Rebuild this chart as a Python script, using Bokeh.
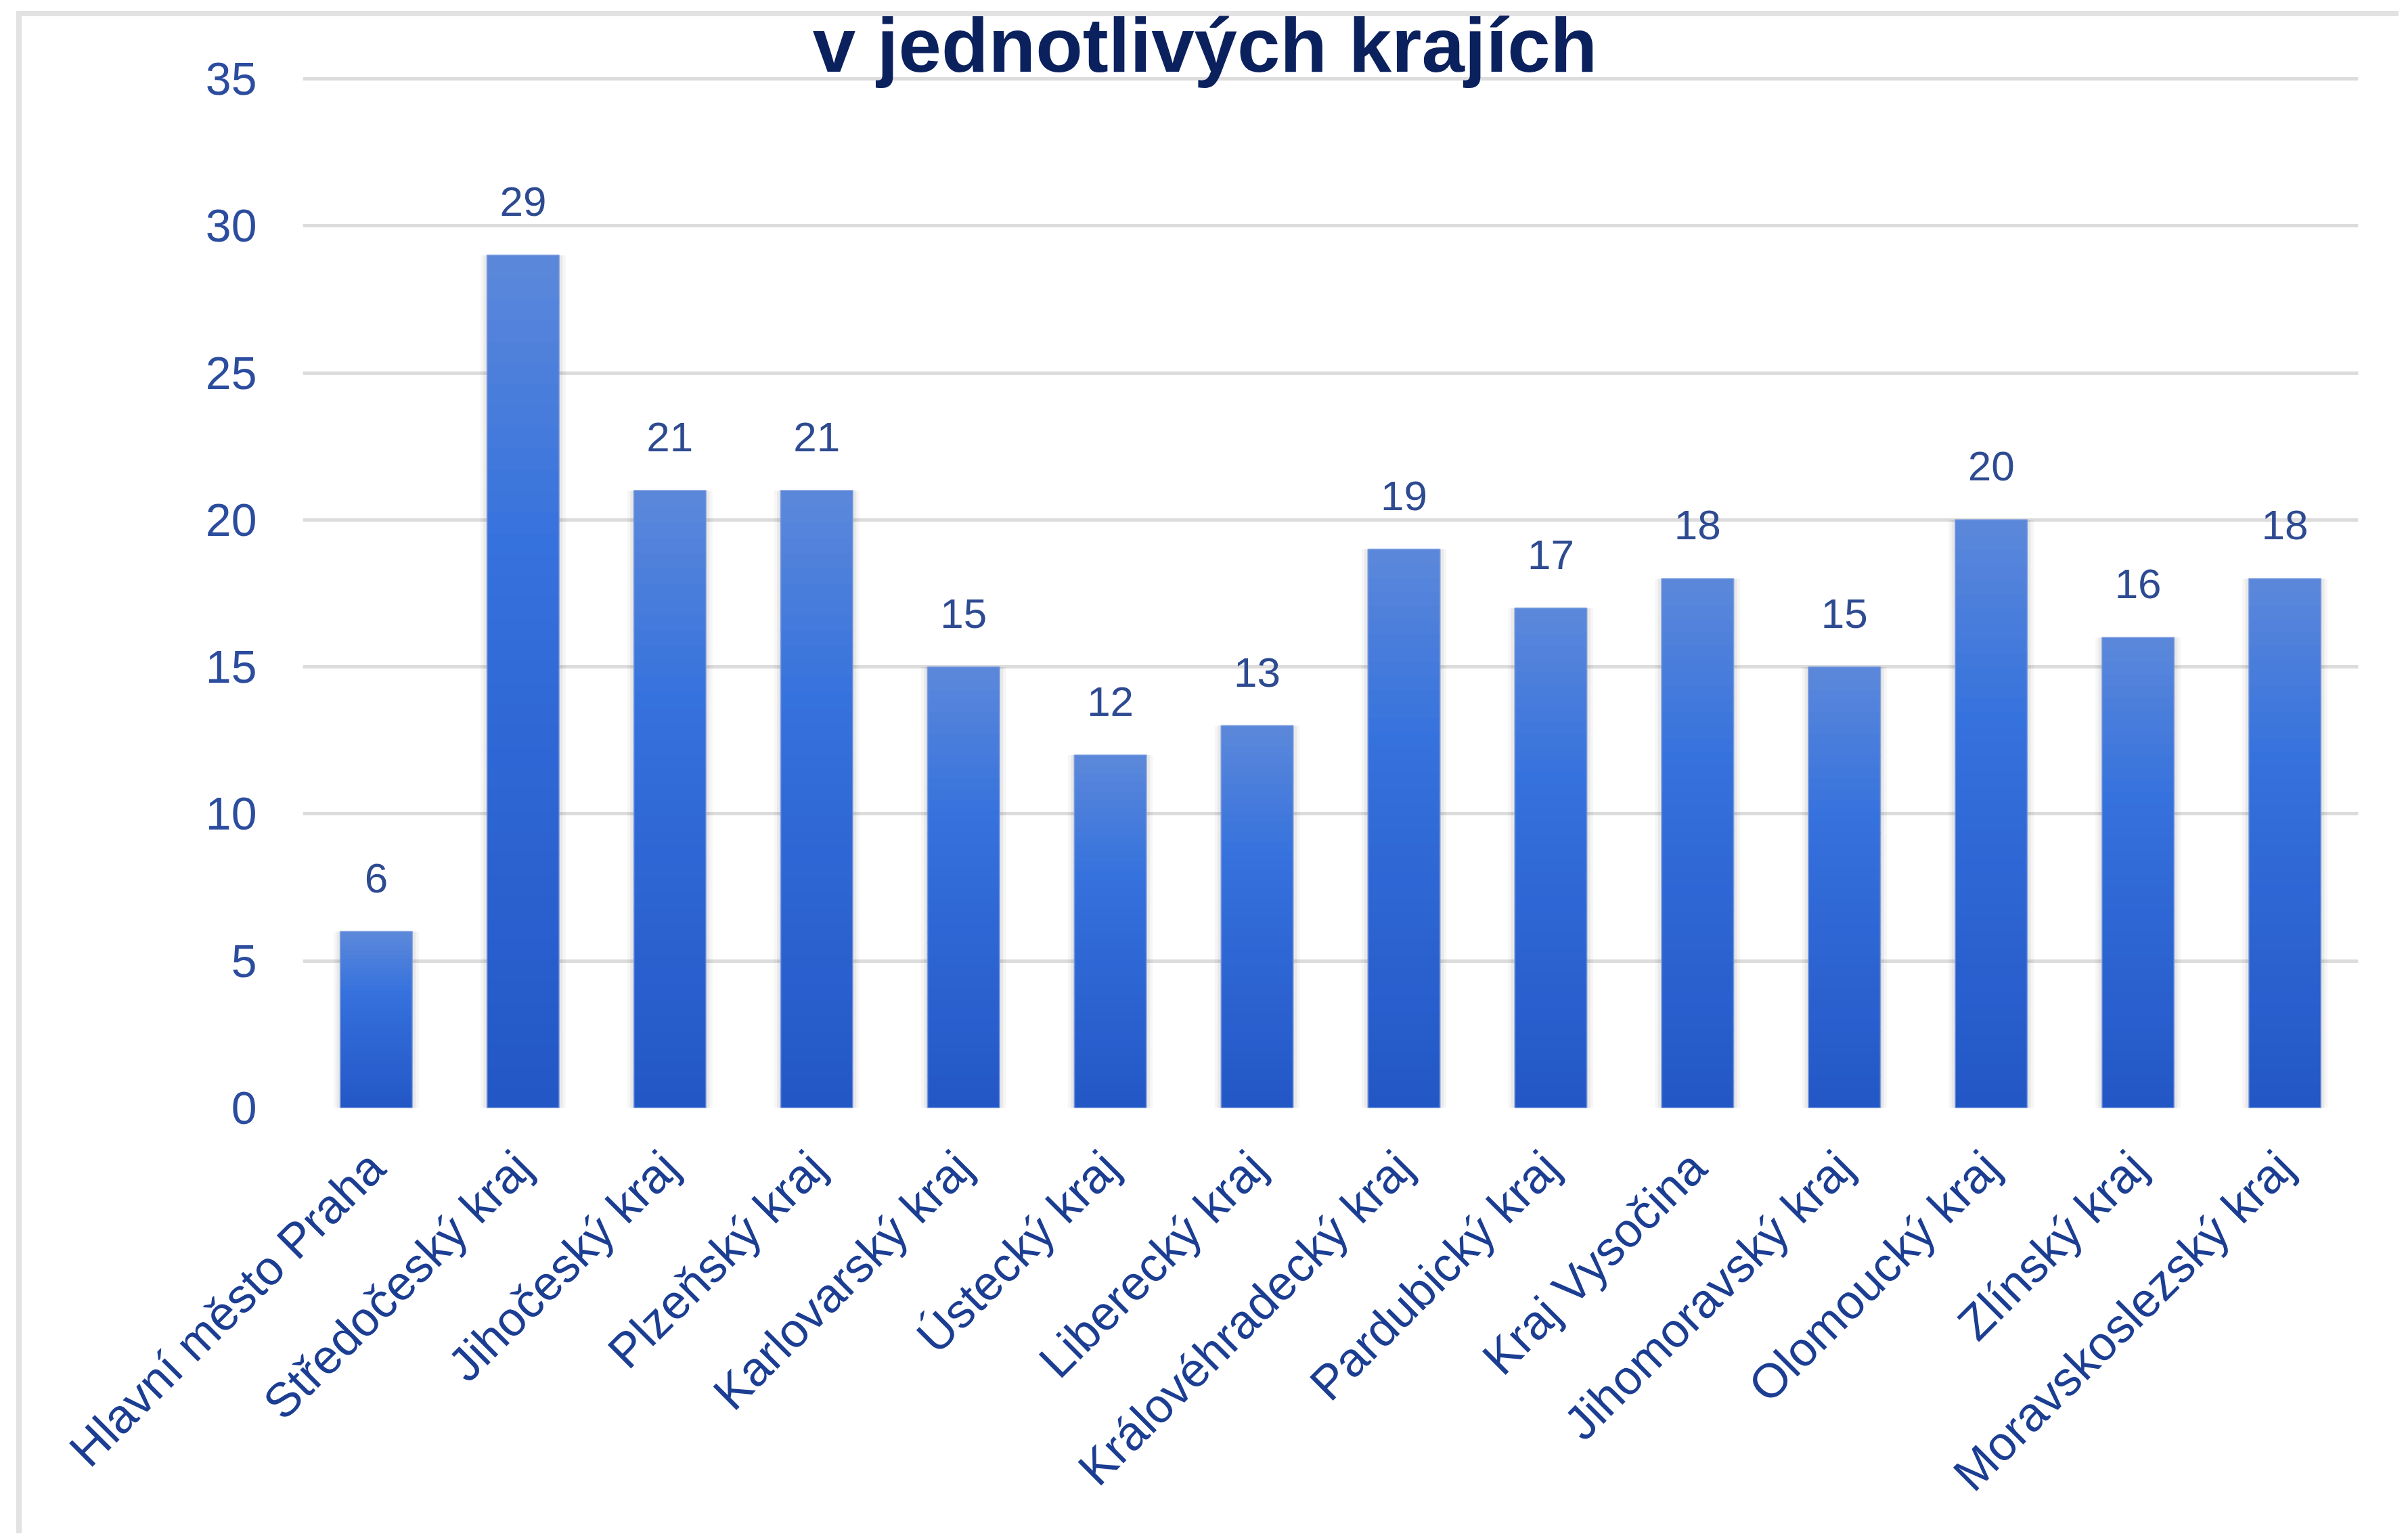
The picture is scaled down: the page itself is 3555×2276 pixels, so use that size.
import math
from bokeh.plotting import figure
from bokeh.models import FactorRange, Range1d, FixedTicker, Label, ColumnDataSource
from bokeh.core.properties import value
from bokeh.embed import file_html
from bokeh.resources import INLINE

# ---------------- data ----------------
regions = ["Hlavní město Praha", "Středočeský kraj", "Jihočeský kraj", "Plzeňský kraj",
           "Karlovarský kraj", "Ústecký kraj", "Liberecký kraj", "Královéhradecký kraj",
           "Pardubický kraj", "Kraj Vysočina", "Jihomoravský kraj", "Olomoucký kraj",
           "Zlínský kraj", "Moravskoslezský kraj"]
counts = [6, 29, 21, 21, 15, 12, 13, 19, 17, 18, 15, 20, 16, 18]
y_ticks = [0, 5, 10, 15, 20, 25, 30, 35]
title_text = "v jednotlivých krajích"

# ---------------- layout constants (canvas placed at page 24,0) ----------------
W, H = 3520, 2266
FRAME_L, FRAME_R = 423, 3460
GRID35_Y, ZERO_Y = 116, 1637
PX_PER_UNIT = (ZERO_Y - GRID35_Y) / 35.0
Y_TOP = 35 + GRID35_Y / PX_PER_UNIT
FONT = "Liberation Sans"
BAR_W = 0.49

p = figure(x_range=FactorRange(factors=regions), y_range=Range1d(0, Y_TOP),
           width=W, height=H, output_backend="svg", toolbar_location=None,
           min_border_left=FRAME_L, min_border_right=W - FRAME_R,
           min_border_top=0, min_border_bottom=H - ZERO_Y)
p.background_fill_alpha = 0
p.border_fill_alpha = 0
p.outline_line_color = None
# light-gray frame line on top and left (as in the reference screenshot)
p.styles = {"margin-left": "24px", "margin-top": "0px",
            "box-shadow": ("inset 0 16px 0 0 #ffffff, inset 0 24px 0 0 #e2e2e2, "
                           "inset 8px 0 0 0 #e2e2e2")}

# grid
p.ygrid.ticker = FixedTicker(ticks=y_ticks)
p.ygrid.grid_line_color = "#dcdcdc"
p.ygrid.grid_line_width = 5
p.xgrid.grid_line_color = None

# axes
p.yaxis.ticker = FixedTicker(ticks=y_ticks)
p.yaxis.axis_line_color = None
p.yaxis.major_tick_line_color = None
p.yaxis.minor_tick_line_color = None
p.yaxis.major_label_text_font = FONT
p.yaxis.major_label_text_font_size = "68px"
p.yaxis.major_label_text_color = "#2c4d9e"
p.yaxis.major_label_standoff = 62

p.xaxis.axis_line_color = None
p.xaxis.major_tick_line_color = None
p.xaxis.major_label_text_font = FONT
p.xaxis.major_label_text_font_size = "71px"
p.xaxis.major_label_text_color = "#1c3e92"
p.xaxis.major_label_orientation = math.pi / 4
p.xaxis.major_label_standoff = 70

# soft shadow behind bars
p.vbar(x=regions, top=counts, bottom=0, width=BAR_W + 0.09, fill_color="#000000",
       fill_alpha=0.035, line_color=None)
p.vbar(x=regions, top=counts, bottom=0, width=BAR_W + 0.05, fill_color="#000000",
       fill_alpha=0.05, line_color=None)


# gradient bars (per-bar vertical gradient, light at top, dark at bottom)
def hex2rgb(h):
    h = h.lstrip("#")
    return tuple(int(h[i:i + 2], 16) for i in (0, 2, 4))


stops = [(0.0, hex2rgb("#5b88da")), (0.35, hex2rgb("#3571dd")), (1.0, hex2rgb("#2356c6"))]


def color_at(t):
    for (t0, c0), (t1, c1) in zip(stops[:-1], stops[1:]):
        if t <= t1:
            f = (t - t0) / (t1 - t0)
            c = tuple(round(a + (b - a) * f) for a, b in zip(c0, c1))
            return "#%02x%02x%02x" % c
    return "#%02x%02x%02x" % stops[-1][1]


N = 40
xs, bots, tops, cols = [], [], [], []
for k in range(N):
    for r, v in zip(regions, counts):
        xs.append(r)
        b = v * k / N
        bots.append(b - 0.04 if k > 0 else b)
        tops.append(v * (k + 1) / N)
        cols.append(color_at(1 - (k + 0.5) / N))
src = ColumnDataSource(dict(x=xs, bottom=bots, top=tops, color=cols))
p.vbar(x="x", bottom="bottom", top="top", width=BAR_W, fill_color="color",
       line_color=None, source=src)

# thin edge around bars
p.vbar(x=regions, top=counts, bottom=0, width=BAR_W, fill_alpha=0,
       line_color="#6f93dc", line_width=2, line_alpha=0.7)

# value labels
p.text(x=regions, y=counts, text=[str(c) for c in counts], y_offset=-79,
       text_align="center", text_baseline="alphabetic",
       text_font=value(FONT), text_font_size="62px", text_color="#2e4b91")

# title (first line is cut off in the reference)
title = Label(x=(1756 - FRAME_L) / ((FRAME_R - FRAME_L) / 14.0),
              y=35 + (GRID35_Y - 66) / PX_PER_UNIT,
              text=title_text, text_align="center", text_baseline="alphabetic",
              text_font=FONT, text_font_size="114px", text_font_style="bold",
              text_color="#0b215e")
p.add_layout(title)

open("out.html", "w").write(file_html(p, INLINE))
